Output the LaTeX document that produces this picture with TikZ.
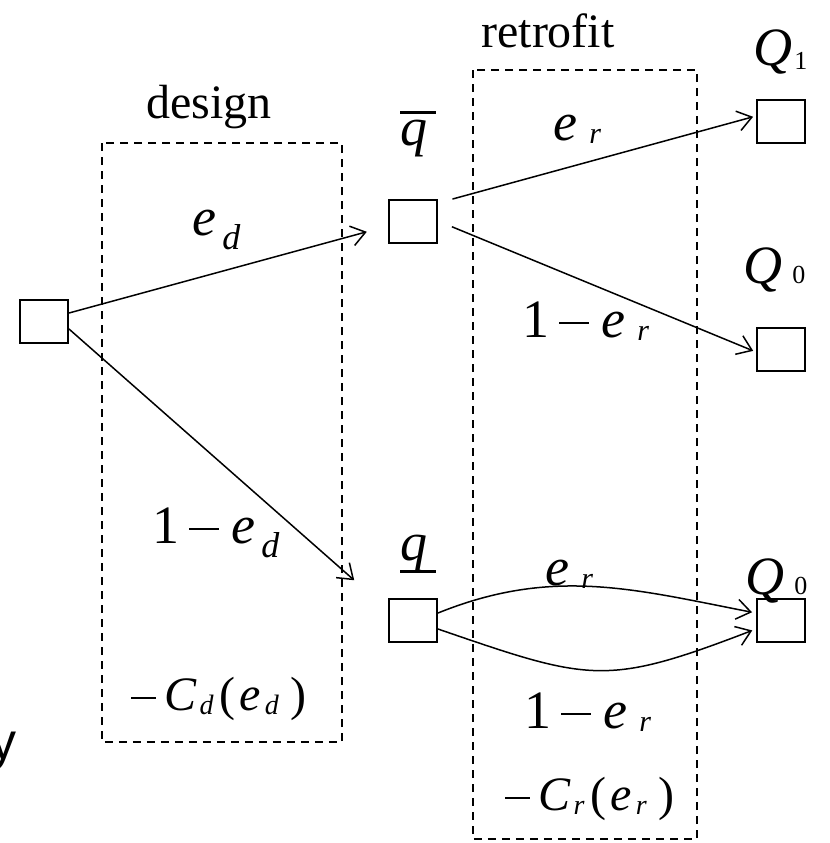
\documentclass[tikz,border=0pt]{standalone}
\usepackage{fontspec}
\setmainfont{Liberation Serif}
\newfontfamily\arialfont{Liberation Sans}
\usetikzlibrary{arrows.meta}

\newcommand{\subd}{\fontsize{18}{18}\selectfont}
\newcommand{\subr}{\fontsize{15}{15}\selectfont}
\newcommand{\subc}{\fontsize{14}{14}\selectfont}
\newcommand{\mns}{\rule[6.5pt]{15pt}{1.2pt}}
\newcommand{\ed}{\textit{e}\kern3pt\raisebox{-7pt}{\subd\textit{d}}}
\newcommand{\er}{\textit{e}\kern6pt\raisebox{-1.5pt}{\subr\textit{r}}}
\newcommand{\cost}[1]{\rule[5.5pt]{12.5pt}{1.1pt}\kern4pt\textit{C}\kern1.5pt\raisebox{-2pt}{\subc\textit{#1}}\kern3pt(\kern2pt\textit{e}\kern2pt\raisebox{-2pt}{\subc\textit{#1}}\kern6pt)}

\begin{document}
\begin{tikzpicture}[x=0.5pt, y=-0.5pt]
    \tikzstyle{chance} = [rectangle, draw, line width=1pt, minimum width=24pt, minimum height=21.5pt, inner sep=0pt]
    \tikzstyle{region} = [draw, dash pattern=on 4pt off 3pt, line width=0.7pt]
    \tikzstyle{branch} = [-{Straight Barb[length=7pt, width=10pt]}, line width=0.75pt]
    \tikzstyle{txt} = [inner sep=0pt, font=\fontsize{24}{28}\selectfont]
    \tikzstyle{lbl} = [inner sep=0pt, font=\fontsize{27}{30}\selectfont]
    \tikzstyle{costlbl} = [inner sep=0pt, font=\fontsize{24}{26}\selectfont]

    \useasboundingbox (0,0) rectangle (830,843);

    % stage frames
    \draw[region] (102,143) rectangle (342,742);
    \draw[region] (473,70) rectangle (697,839);

    \node[txt, anchor=base] (design) at (209,118) {design};
    \node[txt, anchor=base] (retrofit) at (548,47) {retrofit};

    % decision tree
    \node[chance] (root) at (44,321) {};
    \node[chance] (qhi) at (413,221) {};
    \node[chance] (qlo) at (413,620) {};
    \node[chance] (Q1) at (781,121) {};
    \node[chance] (Q0a) at (781,349) {};
    \node[chance] (Q0b) at (781,620) {};

    \node[lbl, anchor=base west] (qhilbl) at (400,145) {\rlap{\rule[15.5pt]{18pt}{1.4pt}}\textit{q}};
    \node[lbl, anchor=base west] (qlolbl) at (400,560) {\rlap{\rule[-6.5pt]{18pt}{1.4pt}}\textit{q}};
    \node[lbl, anchor=base west] (Q1lbl) at (753,65) {\textit{Q}\kern1pt\raisebox{-2pt}{\fontsize{13}{13}\selectfont 1}};
    \node[lbl, anchor=base west] (Q0albl) at (743,283) {\textit{Q}\kern5pt{\fontsize{13}{13}\selectfont 0}};
    \node[lbl, anchor=base west] (Q0blbl) at (745,594) {\textit{Q}\kern5pt{\fontsize{13}{13}\selectfont 0}};

    \node[lbl, anchor=base west] (edlbl) at (192,235) {\ed};
    \node[lbl, anchor=base west] (omedlbl) at (152,543) {1\kern5pt\mns\kern6pt\ed};
    \node[lbl, anchor=base west] (erhi) at (553,140) {\er};
    \node[lbl, anchor=base west] (omerhi) at (522,337) {1\kern5pt\mns\kern6pt\er};
    \node[lbl, anchor=base west] (erlo) at (545,585) {\er};
    \node[lbl, anchor=base west] (omerlo) at (524,728) {1\kern5pt\mns\kern6pt\er};

    \node[costlbl, anchor=base] (cd) at (219,710) {\cost{d}};
    \node[costlbl, anchor=base] (cr) at (590,810) {\cost{r}};

    \node[anchor=base east, inner sep=0pt, font=\arialfont\fontsize{26}{30}\selectfont] (ylbl) at (17,759) {y};

    \draw[branch, shorten >=11pt] ([yshift=4pt]root.east) -- ([yshift=-2.5pt]qhi.west);
    \draw[branch, shorten >=22.5pt] ([yshift=-4pt]root.east) -- ([yshift=5pt]qlo.west);
    \draw[branch, shorten <=7.5pt, shorten >=1.5pt] ([yshift=9pt]qhi.east) -- ([yshift=2.5pt]Q1.west);
    \draw[branch, shorten <=7.5pt, shorten >=1.5pt] (qhi.east) -- ([yshift=-1.5pt]Q0a.west);
    \draw[branch, shorten >=2pt] ([yshift=3.5pt]qlo.east) to[out=22, in=169] ([yshift=3.5pt]Q0b.west);
    \draw[branch, shorten >=2pt] ([yshift=-4.5pt]qlo.east) to[out=-19, in=201, looseness=1.3] ([yshift=-4.5pt]Q0b.west);
\end{tikzpicture}
\end{document}
